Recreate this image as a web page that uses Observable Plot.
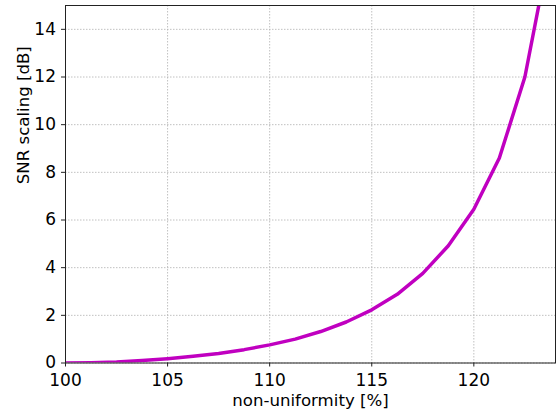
<!DOCTYPE html>
<html>
<head>
<meta charset="utf-8">
<script src="https://cdn.jsdelivr.net/npm/d3@7"></script>
<script src="https://cdn.jsdelivr.net/npm/@observablehq/plot@0.6"></script>
<style>
  html, body { margin: 0; padding: 0; background: #fff; }
  svg text { font-family: "DejaVu Sans"; }
</style>
</head>
<body>
<div id="chart"></div>
<script>
const nonUniformity = [100, 101.25, 102.5, 103.75, 105, 106.25, 107.5, 108.75, 110, 111.25, 112.5, 113.75, 115, 116.25, 117.5, 118.75, 120, 121.25, 122.5, 123.75];
const snrScaling    = [0, 0.01, 0.04, 0.1, 0.18, 0.28, 0.4, 0.56, 0.76, 1.0, 1.32, 1.72, 2.23, 2.88, 3.76, 4.92, 6.45, 8.6, 12.0, 17.5];
const xTicks = [100, 105, 110, 115, 120];
const yTicks = [0, 2, 4, 6, 8, 10, 12, 14];
const xLabel = "non-uniformity [%]";
const yLabel = "SNR scaling [dB]";

const data = nonUniformity.map((x, i) => ({x, y: snrScaling[i]}));

const chart = Plot.plot({
  width: 559,
  height: 412,
  marginLeft: 65,
  marginRight: 4,
  marginTop: 5,
  marginBottom: 49.5,
  style: {fontFamily: "DejaVu Sans", fontSize: "16.6px", color: "#000", background: "#fff"},
  x: {domain: [100, 124], label: null},
  y: {domain: [0, 15], label: null},
  marks: [
    Plot.gridX(xTicks, {stroke: "#b0b0b0", strokeOpacity: 1, strokeWidth: 0.8, strokeDasharray: "1.5,1.5"}),
    Plot.gridY(yTicks, {stroke: "#b0b0b0", strokeOpacity: 1, strokeWidth: 0.8, strokeDasharray: "1.5,1.5"}),
    Plot.line(data, {x: "x", y: "y", stroke: "#c000c0", strokeWidth: 3.5, clip: true}),
    Plot.axisX(xTicks, {tickSize: 4, tickPadding: 6.5, fontSize: 17, label: null, stroke: "#222"}),
    Plot.axisY(yTicks, {tickSize: 4, tickPadding: 5.5, fontSize: 17, label: null, stroke: "#222"}),
    Plot.frame({stroke: "#222", strokeWidth: 1}),
    Plot.text([xLabel], {frameAnchor: "bottom", dy: 38, lineAnchor: "middle", fontSize: 16.6, text: d => d}),
    Plot.text([yLabel], {frameAnchor: "left", dx: -41.5, rotate: -90, fontSize: 16.6, text: d => d})
  ]
});
document.getElementById("chart").appendChild(chart);
</script>
</body>
</html>
